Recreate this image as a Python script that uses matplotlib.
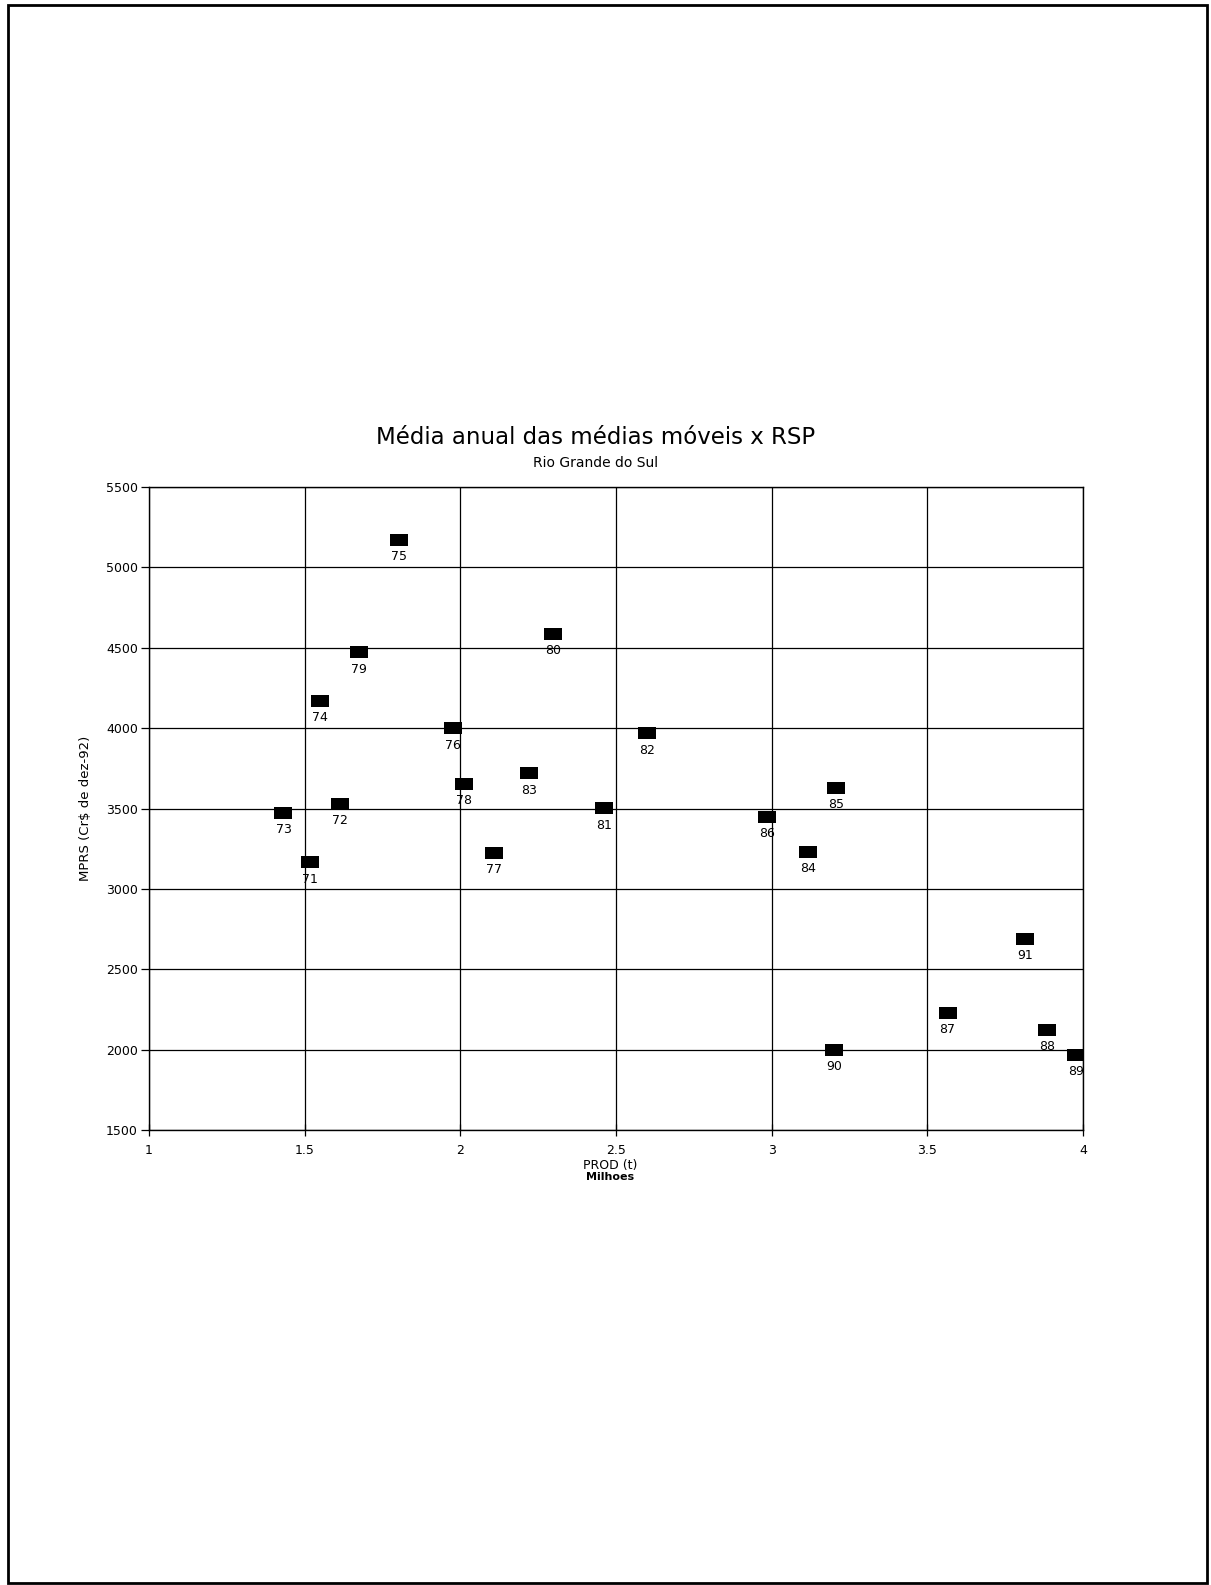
import matplotlib
matplotlib.use("Agg")
import matplotlib.pyplot as plt
from matplotlib.patches import Rectangle

# Data
years = ['71', '72', '73', '74', '75', '76', '77', '78', '79', '80', '81',
         '82', '83', '84', '85', '86', '87', '88', '89', '90', '91']
prod = [1.517, 1.614, 1.432, 1.550, 1.804, 1.976, 2.107, 2.011, 1.673, 2.297, 2.462,
        2.600, 2.220, 3.118, 3.206, 2.984, 3.565, 3.885, 3.977, 3.200, 3.814]
mprs = [3165, 3531, 3475, 4170, 5173, 4000, 3225, 3653, 4473, 4587, 3502,
        3967, 3719, 3232, 3628, 3449, 2229, 2123, 1968, 2000, 2688]
xticks = [1, 1.5, 2, 2.5, 3, 3.5, 4]
xticklabels = ['1', '1.5', '2', '2.5', '3', '3.5', '4']
yticks = [1500, 2000, 2500, 3000, 3500, 4000, 4500, 5000, 5500]

W, H = 1211, 1585
fig = plt.figure(figsize=(W / 100, H / 100), dpi=100)
fig.patch.set_facecolor('white')

# page border (scanned page frame)
fig.add_artist(Rectangle((8 / W, 1 - 1583 / H), (1207 - 8) / W, (1583 - 5) / H,
                         transform=fig.transFigure, fill=False,
                         edgecolor='black', linewidth=2.0))

left, right, top, bottom = 149, 1083, 487, 1130
ax = fig.add_axes([left / W, 1 - bottom / H, (right - left) / W, (bottom - top) / H])

rect = [(-1, -0.7), (1, -0.7), (1, 0.7), (-1, 0.7), (-1, -0.7)]
ax.plot(prod, mprs, linestyle='none', marker=rect, markersize=13,
        color='black', markeredgewidth=0, zorder=3)
for x, y, t in zip(prod, mprs, years):
    ax.annotate(t, (x, y), xytext=(0, -7.5), textcoords='offset points',
                ha='center', va='top', fontsize=9, color='black', zorder=4)

ax.set_xlim(1, 4)
ax.set_ylim(1500, 5500)
ax.set_xticks(xticks)
ax.set_xticklabels(xticklabels)
ax.set_yticks(yticks)
ax.grid(True, color='black', linewidth=0.9)
ax.set_axisbelow(True)
for s in ax.spines.values():
    s.set_color('black')
    s.set_linewidth(1.0)
ax.tick_params(axis='y', direction='out', length=6, width=0.9, pad=2, labelsize=9)
ax.tick_params(axis='x', direction='inout', length=8, width=0.9, pad=6, labelsize=9)

ax.set_ylabel('MPRS (Cr$ de dez-92)', fontsize=9.5, labelpad=10)

fig.text(596 / W, 1 - 438 / H, 'Média anual das médias móveis x RSP',
         ha='center', va='center', fontsize=16.5)
fig.text(596 / W, 1 - 463 / H, 'Rio Grande do Sul',
         ha='center', va='center', fontsize=10)
fig.text(610 / W, 1 - 1165 / H, 'PROD (t)', ha='center', va='center', fontsize=9)
fig.text(610 / W, 1 - 1177 / H, 'Milhoes', ha='center', va='center', fontsize=8,
         fontweight='bold')

fig.savefig('out.png', dpi=100, facecolor='white')
